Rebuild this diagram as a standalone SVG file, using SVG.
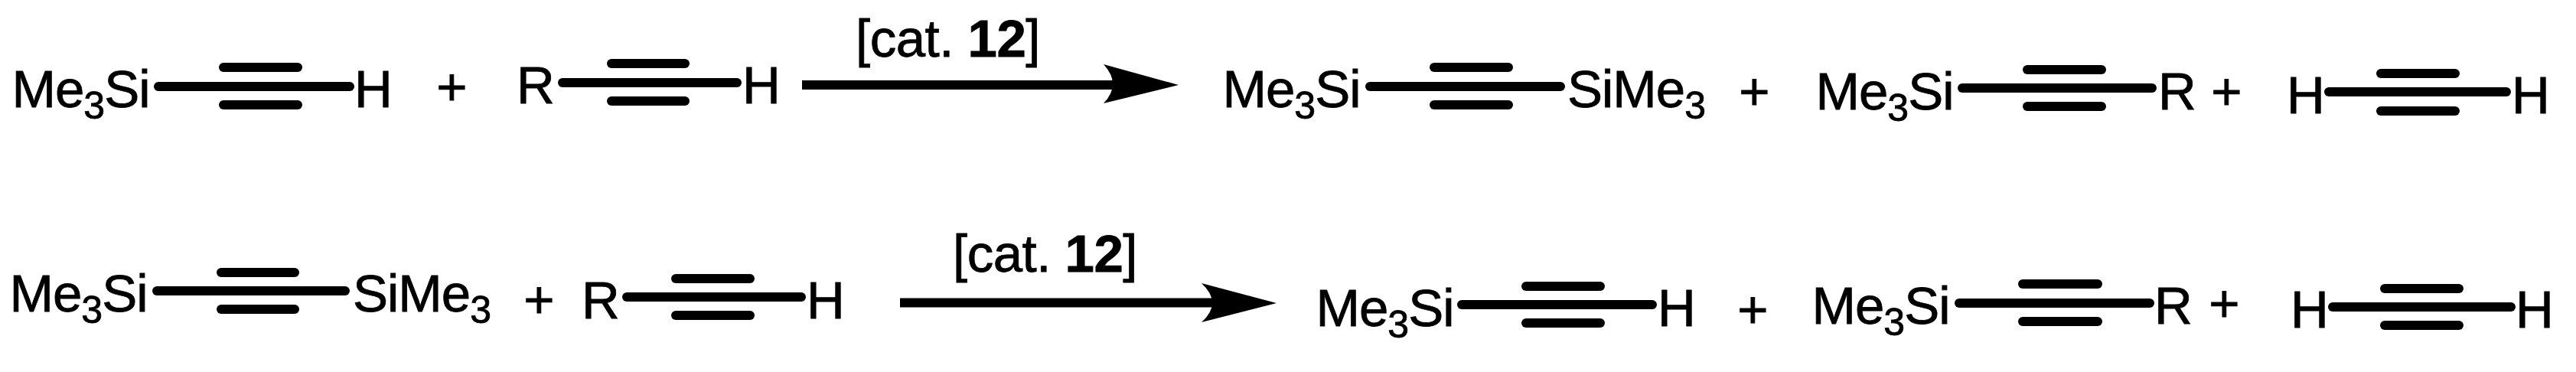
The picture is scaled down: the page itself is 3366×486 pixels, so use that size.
<svg xmlns="http://www.w3.org/2000/svg" width="3366" height="486" viewBox="0 0 3366 486">
<style>
text{font-family:"Liberation Sans",Arial,sans-serif;font-size:69px;letter-spacing:-1px;fill:#000;stroke:#000;stroke-width:.8px}
.s{font-size:50px}
.b{font-weight:bold}
.m{text-anchor:middle}
.c{letter-spacing:-.5px}
line{stroke:#000;stroke-width:12;stroke-linecap:round}
.a{stroke-linecap:butt}
path{fill:#000}
</style>
<rect width="3366" height="486" fill="#fff"/>
<g id="connectors">
<g id="arrow-1"><line class="a" x1="1048" y1="111" x2="1460" y2="111"/><path d="M1540 111L1442 84Q1466 110 1442 135Z"/></g>
<g id="arrow-2"><line class="a" x1="1176" y1="395.500" x2="1590" y2="395.500"/><path d="M1668 396L1570 370Q1598 396 1570 421Z"/></g>
</g>
<g id="r1-me3si-h">
<text x="15.500" y="140">Me<tspan class="s" dy="15">3</tspan><tspan dy="-15">Si</tspan></text>
<line x1="207" y1="113" x2="457" y2="113"/><line x1="292" y1="88" x2="389" y2="88"/><line x1="292" y1="137" x2="389" y2="137"/>
<text x="463" y="140">H</text>
</g>
<g id="r1-plus-1"><text class="m" x="590" y="137">+</text></g>
<g id="r1-r-h">
<text x="675" y="135">R</text>
<line x1="735" y1="108" x2="963" y2="108"/><line x1="799" y1="83" x2="895" y2="83"/><line x1="799" y1="132" x2="895" y2="132"/>
<text x="970" y="135">H</text>
</g>
<g id="r1-cat"><text class="c" x="1118" y="74">[cat. <tspan class="b">12</tspan>]</text></g>
<g id="r1-me3si-sime3">
<text x="1597.500" y="140">Me<tspan class="s" dy="15">3</tspan><tspan dy="-15">Si</tspan></text>
<line x1="1790" y1="113" x2="2039" y2="113"/><line x1="1874" y1="88" x2="1971" y2="88"/><line x1="1874" y1="137" x2="1971" y2="137"/>
<text x="2048" y="140">SiMe<tspan class="s" dy="15">3</tspan></text>
</g>
<g id="r1-plus-2"><text class="m" x="2292" y="143">+</text></g>
<g id="r1-me3si-r">
<text x="2372.500" y="143">Me<tspan class="s" dy="15">3</tspan><tspan dy="-15">Si</tspan></text>
<line x1="2564" y1="115" x2="2812" y2="115"/><line x1="2649" y1="91" x2="2746" y2="91"/><line x1="2649" y1="139" x2="2746" y2="139"/>
<text x="2820" y="143">R</text>
</g>
<g id="r1-plus-3"><text class="m" x="2909" y="143">+</text></g>
<g id="r1-h-h">
<text x="2988" y="148">H</text>
<line x1="3043" y1="120" x2="3275" y2="120"/><line x1="3111" y1="96" x2="3208" y2="96"/><line x1="3111" y1="145" x2="3208" y2="145"/>
<text x="3282" y="148">H</text>
</g>
<g id="r2-me3si-sime3">
<text x="12.500" y="407">Me<tspan class="s" dy="15">3</tspan><tspan dy="-15">Si</tspan></text>
<line x1="205" y1="380" x2="451" y2="380"/><line x1="289" y1="356" x2="385" y2="356"/><line x1="289" y1="404" x2="385" y2="404"/>
<text x="461" y="407">SiMe<tspan class="s" dy="15">3</tspan></text>
</g>
<g id="r2-plus-1"><text class="m" x="704" y="415">+</text></g>
<g id="r2-r-h">
<text x="760" y="416">R</text>
<line x1="819" y1="388" x2="1047" y2="388"/><line x1="883" y1="364" x2="980" y2="364"/><line x1="883" y1="412" x2="980" y2="412"/>
<text x="1054" y="416">H</text>
</g>
<g id="r2-cat"><text class="c" x="1245" y="355">[cat. <tspan class="b">12</tspan>]</text></g>
<g id="r2-me3si-h">
<text x="1719.500" y="426">Me<tspan class="s" dy="15">3</tspan><tspan dy="-15">Si</tspan></text>
<line x1="1910" y1="398" x2="2159" y2="398"/><line x1="1994" y1="374" x2="2091" y2="374"/><line x1="1994" y1="422" x2="2091" y2="422"/>
<text x="2166" y="426">H</text>
</g>
<g id="r2-plus-2"><text class="m" x="2290" y="428">+</text></g>
<g id="r2-me3si-r">
<text x="2367.500" y="423">Me<tspan class="s" dy="15">3</tspan><tspan dy="-15">Si</tspan></text>
<line x1="2560" y1="396" x2="2809" y2="396"/><line x1="2643" y1="371" x2="2741" y2="371"/><line x1="2643" y1="420" x2="2741" y2="420"/>
<text x="2815" y="423">R</text>
</g>
<g id="r2-plus-3"><text class="m" x="2906" y="420">+</text></g>
<g id="r2-h-h">
<text x="2993" y="428">H</text>
<line x1="3048" y1="401" x2="3281" y2="401"/><line x1="3116" y1="377" x2="3213" y2="377"/><line x1="3116" y1="425" x2="3213" y2="425"/>
<text x="3287" y="428">H</text>
</g>
</svg>
